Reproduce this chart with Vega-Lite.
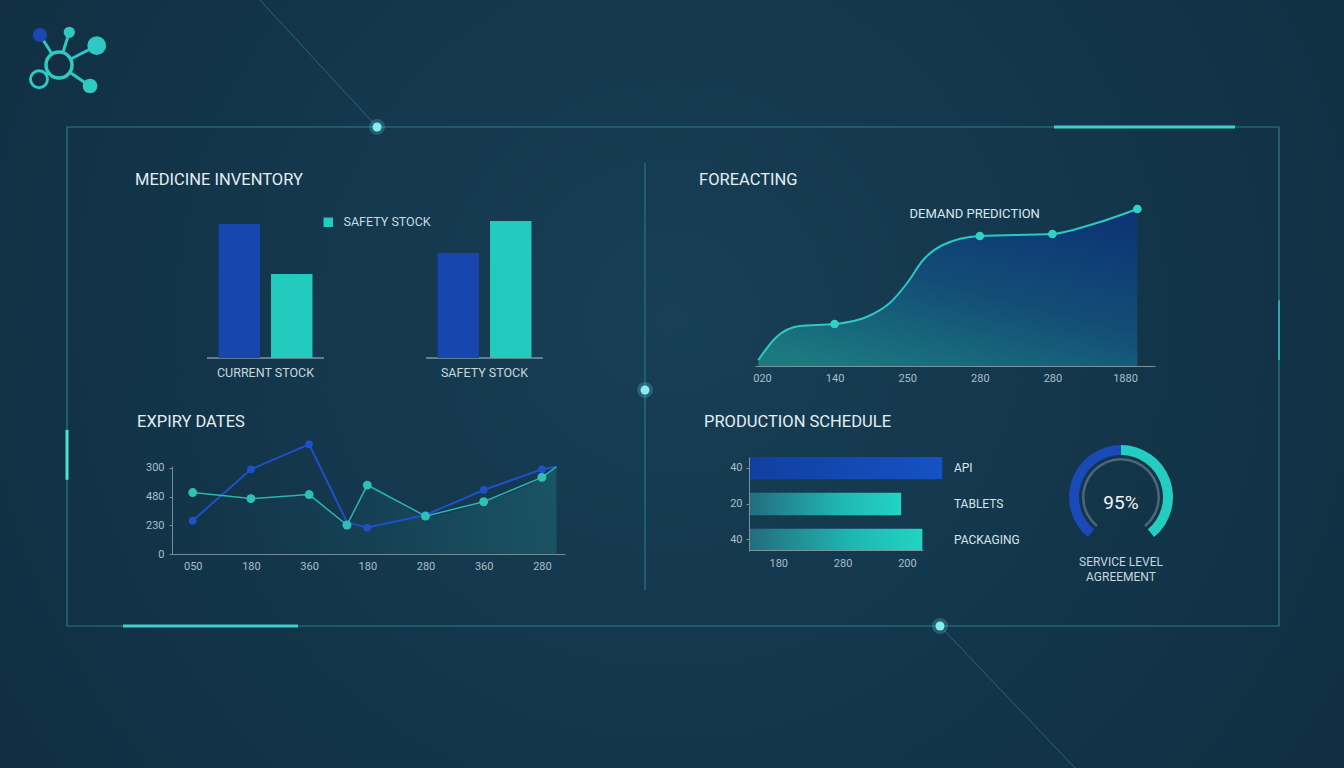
{
  "$schema": "https://vega.github.io/schema/vega-lite/v6.json",
  "width": 1344,
  "height": 768,
  "autosize": "none",
  "padding": 0,
  "background": "#0f2e42",
  "config": {
    "font": "Roboto",
    "view": {"stroke": null},
    "axis": {"grid": false, "labelFont": "Roboto", "labelColor": "#a9bfc8", "domainColor": "#6f8c9a", "tickColor": "#6f8c9a"}
  },
  "resolve": {
    "scale": {"x": "independent", "y": "independent", "color": "independent", "theta": "independent", "xOffset": "independent"},
    "axis": {"x": "independent", "y": "independent"},
    "legend": {"color": "independent"}
  },
  "layer": [
    {
      "data": {"values": [{}]},
      "layer": [
        {"mark": {"type": "rect", "fill": {"gradient": "radial", "x1": 0.5, "y1": 0.45, "r1": 0, "x2": 0.5, "y2": 0.45, "r2": 0.75, "stops": [{"offset": 0, "color": "#173f56"}, {"offset": 1, "color": "#0e2a3d"}]}},
         "encoding": {"x": {"datum": -0.0553, "type": "quantitative", "scale": {"domain": [0, 1], "range": [67, 1279], "nice": false, "zero": false}, "axis": null}, "x2": {"datum": 1.0536},
                      "y": {"datum": -0.2545, "type": "quantitative", "scale": {"domain": [0, 1], "range": [127, 626], "nice": false, "zero": false}, "axis": null}, "y2": {"datum": 1.2846}}},
        {"mark": {"type": "rect", "fill": "#000000", "fillOpacity": 0, "stroke": "#2a8e9c", "strokeWidth": 1.2, "strokeOpacity": 0.8},
         "encoding": {"x": {"datum": 0, "type": "quantitative", "scale": {"domain": [0, 1], "range": [67, 1279], "nice": false, "zero": false}, "axis": null}, "x2": {"datum": 1},
                      "y": {"datum": 0, "type": "quantitative", "scale": {"domain": [0, 1], "range": [127, 626], "nice": false, "zero": false}, "axis": null}, "y2": {"datum": 1}}},
        {"mark": {"type": "rule", "color": "#2b8594", "strokeWidth": 1, "opacity": 0.9},
         "encoding": {"x": {"datum": 0.4769, "type": "quantitative", "scale": {"domain": [0, 1], "range": [67, 1279], "nice": false, "zero": false}, "axis": null},
                      "y": {"datum": 0.0721, "type": "quantitative", "scale": {"domain": [0, 1], "range": [127, 626], "nice": false, "zero": false}, "axis": null}, "y2": {"datum": 0.928}}},
        {"mark": {"type": "rule", "color": "#2b8c99", "strokeWidth": 1, "opacity": 0.6},
         "encoding": {"x": {"datum": 0.1592, "type": "quantitative", "scale": {"domain": [0, 1], "range": [67, 1279], "nice": false, "zero": false}, "axis": null}, "x2": {"datum": 0.2558},
                      "y": {"datum": -0.2545, "type": "quantitative", "scale": {"domain": [0, 1], "range": [127, 626], "nice": false, "zero": false}, "axis": null}, "y2": {"datum": 0}}},
        {"mark": {"type": "rule", "color": "#2b8c99", "strokeWidth": 1, "opacity": 0.6},
         "encoding": {"x": {"datum": 0.7203, "type": "quantitative", "scale": {"domain": [0, 1], "range": [67, 1279], "nice": false, "zero": false}, "axis": null}, "x2": {"datum": 0.8317},
                      "y": {"datum": 1, "type": "quantitative", "scale": {"domain": [0, 1], "range": [127, 626], "nice": false, "zero": false}, "axis": null}, "y2": {"datum": 1.2846}}},
        {"mark": {"type": "rule", "color": "#3fd0cc", "strokeWidth": 3},
         "encoding": {"x": {"datum": 0.8144, "type": "quantitative", "scale": {"domain": [0, 1], "range": [67, 1279], "nice": false, "zero": false}, "axis": null}, "x2": {"datum": 0.9637},
                      "y": {"datum": 0, "type": "quantitative", "scale": {"domain": [0, 1], "range": [127, 626], "nice": false, "zero": false}, "axis": null}}},
        {"mark": {"type": "rule", "color": "#3fd0cc", "strokeWidth": 3},
         "encoding": {"x": {"datum": 0.0462, "type": "quantitative", "scale": {"domain": [0, 1], "range": [67, 1279], "nice": false, "zero": false}, "axis": null}, "x2": {"datum": 0.1906},
                      "y": {"datum": 1, "type": "quantitative", "scale": {"domain": [0, 1], "range": [127, 626], "nice": false, "zero": false}, "axis": null}}},
        {"mark": {"type": "rule", "color": "#4fe0d8", "strokeWidth": 3},
         "encoding": {"x": {"datum": 0, "type": "quantitative", "scale": {"domain": [0, 1], "range": [67, 1279], "nice": false, "zero": false}, "axis": null},
                      "y": {"datum": 0.607, "type": "quantitative", "scale": {"domain": [0, 1], "range": [127, 626], "nice": false, "zero": false}, "axis": null}, "y2": {"datum": 0.707}}},
        {"mark": {"type": "rule", "color": "#3cc4c8", "strokeWidth": 2, "opacity": 0.7},
         "encoding": {"x": {"datum": 1, "type": "quantitative", "scale": {"domain": [0, 1], "range": [67, 1279], "nice": false, "zero": false}, "axis": null},
                      "y": {"datum": 0.347, "type": "quantitative", "scale": {"domain": [0, 1], "range": [127, 626], "nice": false, "zero": false}, "axis": null}, "y2": {"datum": 0.467}}},
        {"mark": {"type": "point", "filled": true, "color": "#8af0f4", "opacity": 1, "size": 80, "stroke": "#6fe6ee", "strokeWidth": 7, "strokeOpacity": 0.22},
         "encoding": {"x": {"datum": 0.2558, "type": "quantitative", "scale": {"domain": [0, 1], "range": [67, 1279], "nice": false, "zero": false}, "axis": null},
                      "y": {"datum": 0, "type": "quantitative", "scale": {"domain": [0, 1], "range": [127, 626], "nice": false, "zero": false}, "axis": null}}},
        {"mark": {"type": "point", "filled": true, "color": "#8af0f4", "opacity": 1, "size": 80, "stroke": "#6fe6ee", "strokeWidth": 7, "strokeOpacity": 0.22},
         "encoding": {"x": {"datum": 0.4769, "type": "quantitative", "scale": {"domain": [0, 1], "range": [67, 1279], "nice": false, "zero": false}, "axis": null},
                      "y": {"datum": 0.527, "type": "quantitative", "scale": {"domain": [0, 1], "range": [127, 626], "nice": false, "zero": false}, "axis": null}}},
        {"mark": {"type": "point", "filled": true, "color": "#8af0f4", "opacity": 1, "size": 80, "stroke": "#6fe6ee", "strokeWidth": 7, "strokeOpacity": 0.22},
         "encoding": {"x": {"datum": 0.7203, "type": "quantitative", "scale": {"domain": [0, 1], "range": [67, 1279], "nice": false, "zero": false}, "axis": null},
                      "y": {"datum": 1, "type": "quantitative", "scale": {"domain": [0, 1], "range": [127, 626], "nice": false, "zero": false}, "axis": null}}},
        {"mark": {"type": "rule", "color": "#2ec9c0", "strokeWidth": 3},
         "encoding": {"x": {"datum": -0.0066, "type": "quantitative", "scale": {"domain": [0, 1], "range": [67, 1279], "nice": false, "zero": false}, "axis": null}, "x2": {"datum": -0.0223},
                      "y": {"datum": -0.1242, "type": "quantitative", "scale": {"domain": [0, 1], "range": [127, 626], "nice": false, "zero": false}, "axis": null}, "y2": {"datum": -0.1844}}},
        {"mark": {"type": "rule", "color": "#2ec9c0", "strokeWidth": 3},
         "encoding": {"x": {"datum": -0.0066, "type": "quantitative", "scale": {"domain": [0, 1], "range": [67, 1279], "nice": false, "zero": false}, "axis": null}, "x2": {"datum": 0.0019},
                      "y": {"datum": -0.1242, "type": "quantitative", "scale": {"domain": [0, 1], "range": [127, 626], "nice": false, "zero": false}, "axis": null}, "y2": {"datum": -0.1898}}},
        {"mark": {"type": "rule", "color": "#2ec9c0", "strokeWidth": 3},
         "encoding": {"x": {"datum": -0.0066, "type": "quantitative", "scale": {"domain": [0, 1], "range": [67, 1279], "nice": false, "zero": false}, "axis": null}, "x2": {"datum": 0.0245},
                      "y": {"datum": -0.1242, "type": "quantitative", "scale": {"domain": [0, 1], "range": [127, 626], "nice": false, "zero": false}, "axis": null}, "y2": {"datum": -0.1629}}},
        {"mark": {"type": "rule", "color": "#2ec9c0", "strokeWidth": 3},
         "encoding": {"x": {"datum": -0.0066, "type": "quantitative", "scale": {"domain": [0, 1], "range": [67, 1279], "nice": false, "zero": false}, "axis": null}, "x2": {"datum": 0.019},
                      "y": {"datum": -0.1242, "type": "quantitative", "scale": {"domain": [0, 1], "range": [127, 626], "nice": false, "zero": false}, "axis": null}, "y2": {"datum": -0.0822}}},
        {"mark": {"type": "rule", "color": "#2ec9c0", "strokeWidth": 3},
         "encoding": {"x": {"datum": -0.0066, "type": "quantitative", "scale": {"domain": [0, 1], "range": [67, 1279], "nice": false, "zero": false}, "axis": null}, "x2": {"datum": -0.0231},
                      "y": {"datum": -0.1242, "type": "quantitative", "scale": {"domain": [0, 1], "range": [127, 626], "nice": false, "zero": false}, "axis": null}, "y2": {"datum": -0.0956}}},
        {"mark": {"type": "point", "filled": true, "color": "#122f44", "opacity": 1, "size": 676, "stroke": "#2ec9c0", "strokeWidth": 3.5},
         "encoding": {"x": {"datum": -0.0066, "type": "quantitative", "scale": {"domain": [0, 1], "range": [67, 1279], "nice": false, "zero": false}, "axis": null},
                      "y": {"datum": -0.1242, "type": "quantitative", "scale": {"domain": [0, 1], "range": [127, 626], "nice": false, "zero": false}, "axis": null}}},
        {"mark": {"type": "point", "filled": true, "color": "#122f44", "opacity": 1, "size": 289, "stroke": "#2ec9c0", "strokeWidth": 3},
         "encoding": {"x": {"datum": -0.0231, "type": "quantitative", "scale": {"domain": [0, 1], "range": [67, 1279], "nice": false, "zero": false}, "axis": null},
                      "y": {"datum": -0.0956, "type": "quantitative", "scale": {"domain": [0, 1], "range": [127, 626], "nice": false, "zero": false}, "axis": null}}},
        {"mark": {"type": "point", "filled": true, "color": "#1c47b0", "size": 196, "opacity": 1},
         "encoding": {"x": {"datum": -0.0223, "type": "quantitative", "scale": {"domain": [0, 1], "range": [67, 1279], "nice": false, "zero": false}, "axis": null},
                      "y": {"datum": -0.1844, "type": "quantitative", "scale": {"domain": [0, 1], "range": [127, 626], "nice": false, "zero": false}, "axis": null}}},
        {"mark": {"type": "point", "filled": true, "color": "#2ec9c0", "size": 128, "opacity": 1},
         "encoding": {"x": {"datum": 0.0019, "type": "quantitative", "scale": {"domain": [0, 1], "range": [67, 1279], "nice": false, "zero": false}, "axis": null},
                      "y": {"datum": -0.1898, "type": "quantitative", "scale": {"domain": [0, 1], "range": [127, 626], "nice": false, "zero": false}, "axis": null}}},
        {"mark": {"type": "point", "filled": true, "color": "#2ec9c0", "size": 350, "opacity": 1},
         "encoding": {"x": {"datum": 0.0245, "type": "quantitative", "scale": {"domain": [0, 1], "range": [67, 1279], "nice": false, "zero": false}, "axis": null},
                      "y": {"datum": -0.1629, "type": "quantitative", "scale": {"domain": [0, 1], "range": [127, 626], "nice": false, "zero": false}, "axis": null}}},
        {"mark": {"type": "point", "filled": true, "color": "#2ec9c0", "size": 216, "opacity": 1},
         "encoding": {"x": {"datum": 0.019, "type": "quantitative", "scale": {"domain": [0, 1], "range": [67, 1279], "nice": false, "zero": false}, "axis": null},
                      "y": {"datum": -0.0822, "type": "quantitative", "scale": {"domain": [0, 1], "range": [127, 626], "nice": false, "zero": false}, "axis": null}}},
        {"mark": {"type": "text", "text": "MEDICINE INVENTORY", "align": "left", "baseline": "middle", "fontSize": 16.5, "color": "#e3eef2"},
         "encoding": {"x": {"datum": 0.0561, "type": "quantitative", "scale": {"domain": [0, 1], "range": [67, 1279], "nice": false, "zero": false}, "axis": null},
                      "y": {"datum": 0.1062, "type": "quantitative", "scale": {"domain": [0, 1], "range": [127, 626], "nice": false, "zero": false}, "axis": null}}},
        {"mark": {"type": "text", "text": "FOREACTING", "align": "left", "baseline": "middle", "fontSize": 16.5, "color": "#e3eef2"},
         "encoding": {"x": {"datum": 0.5215, "type": "quantitative", "scale": {"domain": [0, 1], "range": [67, 1279], "nice": false, "zero": false}, "axis": null},
                      "y": {"datum": 0.1062, "type": "quantitative", "scale": {"domain": [0, 1], "range": [127, 626], "nice": false, "zero": false}, "axis": null}}},
        {"mark": {"type": "text", "text": "EXPIRY DATES", "align": "left", "baseline": "middle", "fontSize": 16.5, "color": "#e3eef2"},
         "encoding": {"x": {"datum": 0.0578, "type": "quantitative", "scale": {"domain": [0, 1], "range": [67, 1279], "nice": false, "zero": false}, "axis": null},
                      "y": {"datum": 0.5912, "type": "quantitative", "scale": {"domain": [0, 1], "range": [127, 626], "nice": false, "zero": false}, "axis": null}}},
        {"mark": {"type": "text", "text": "PRODUCTION SCHEDULE", "align": "left", "baseline": "middle", "fontSize": 16.5, "color": "#e3eef2"},
         "encoding": {"x": {"datum": 0.5256, "type": "quantitative", "scale": {"domain": [0, 1], "range": [67, 1279], "nice": false, "zero": false}, "axis": null},
                      "y": {"datum": 0.5912, "type": "quantitative", "scale": {"domain": [0, 1], "range": [127, 626], "nice": false, "zero": false}, "axis": null}}}
      ]
    },
    {
      "data": {"values": [
        {"group": "CURRENT STOCK", "series": "CURRENT STOCK", "stock": 134},
        {"group": "CURRENT STOCK", "series": "SAFETY STOCK", "stock": 84},
        {"group": "SAFETY STOCK", "series": "CURRENT STOCK", "stock": 105},
        {"group": "SAFETY STOCK", "series": "SAFETY STOCK", "stock": 137}
      ]},
      "encoding": {
        "x": {"field": "group", "type": "nominal", "scale": {"domain": ["CURRENT STOCK", "SAFETY STOCK"], "range": [156, 594], "paddingInner": 0.466, "paddingOuter": 0.233},
              "axis": {"orient": "bottom", "offset": -410, "zindex": 1, "domain": false, "ticks": false, "labelPadding": 8, "labelFontSize": 12.5, "labelColor": "#c6d8df", "labelAngle": 0, "title": null}}
      },
      "layer": [
        {"mark": {"type": "tick", "size": 117, "thickness": 1, "color": "#7b96a4", "opacity": 1},
         "encoding": {"y": {"datum": 0, "type": "quantitative", "scale": {"domain": [0, 150], "range": [358, 208], "nice": false}, "axis": null}}},
        {"mark": {"type": "bar"},
         "encoding": {
           "xOffset": {"field": "series", "type": "nominal", "scale": {"paddingInner": 0.21, "paddingOuter": 0.219}},
           "y": {"field": "stock", "type": "quantitative", "scale": {"domain": [0, 150], "range": [358, 208], "nice": false}, "axis": null},
           "color": {"field": "series", "type": "nominal", "scale": {"domain": ["CURRENT STOCK", "SAFETY STOCK"], "range": ["#1646ae", "#22cbbd"]},
                     "legend": {"values": ["SAFETY STOCK"], "orient": "none", "legendX": 322, "legendY": 216, "zindex": 1, "title": null, "symbolType": "square", "symbolSize": 90, "symbolStrokeWidth": 0, "labelFontSize": 12.5, "labelColor": "#c8dbe2", "labelOffset": 9, "labelFont": "Roboto"}}
         }}
      ]
    },
    {
      "data": {"values": [
        {"period": -0.05, "demand": 6, "marker": false},
        {"period": 0.2, "demand": 29, "marker": false},
        {"period": 0.52, "demand": 40, "marker": false},
        {"period": 1, "demand": 42, "marker": true},
        {"period": 1.44, "demand": 49, "marker": false},
        {"period": 1.76, "demand": 63, "marker": false},
        {"period": 2, "demand": 83, "marker": false},
        {"period": 2.22, "demand": 106, "marker": false},
        {"period": 2.49, "demand": 121, "marker": false},
        {"period": 3, "demand": 130, "marker": true},
        {"period": 4, "demand": 132, "marker": true},
        {"period": 4.52, "demand": 141, "marker": false},
        {"period": 5.17, "demand": 157, "marker": true}
      ]},
      "encoding": {
        "x": {"field": "period", "type": "quantitative", "scale": {"domain": [-0.096, 5.413], "range": [755, 1155], "nice": false, "zero": false},
              "axis": {"orient": "bottom", "offset": -402, "zindex": 1, "values": [0, 1, 2, 3, 4, 5], "labelExpr": "['020','140','250','280','280','1880'][datum.value]", "ticks": false, "labelPadding": 6, "labelFontSize": 11, "labelColor": "#a9bfc8", "domainColor": "#7893a1", "title": null}},
        "y": {"field": "demand", "type": "quantitative", "scale": {"domain": [0, 160], "range": [366, 206], "nice": false}, "axis": null}
      },
      "layer": [
        {"mark": {"type": "area", "interpolate": "monotone", "opacity": 0.95, "fill": {"gradient": "linear", "x1": 0.8, "y1": 0, "x2": 0.2, "y2": 1, "stops": [{"offset": 0, "color": "#0c3577"}, {"offset": 0.5, "color": "#134f78"}, {"offset": 1, "color": "#1b7c82"}]}}},
        {"mark": {"type": "line", "interpolate": "monotone", "color": "#2cc8c2", "strokeWidth": 2}},
        {"transform": [{"filter": "datum.marker"}], "mark": {"type": "point", "filled": true, "size": 75, "color": "#2fd3c3", "opacity": 1}},
        {"transform": [{"filter": "datum.period == 3"}],
         "mark": {"type": "text", "text": "DEMAND PREDICTION", "fontSize": 13, "color": "#dbe8ec", "align": "center", "baseline": "middle"},
         "encoding": {"x": {"datum": 2.93, "type": "quantitative", "scale": {"domain": [-0.096, 5.413], "range": [755, 1155], "nice": false, "zero": false}},
                      "y": {"datum": 152, "type": "quantitative", "scale": {"domain": [0, 160], "range": [366, 206], "nice": false}, "axis": null}}}
      ]
    },
    {
      "data": {"values": [
        {"idx": 0, "series": "A", "level": 1.16, "dot": true},
        {"idx": 1, "series": "A", "level": 2.95, "dot": true},
        {"idx": 2, "series": "A", "level": 3.82, "dot": true},
        {"idx": 2.65, "series": "A", "level": 1.11, "dot": false},
        {"idx": 3, "series": "A", "level": 0.92, "dot": true},
        {"idx": 4, "series": "A", "level": 1.36, "dot": true},
        {"idx": 5, "series": "A", "level": 2.23, "dot": true},
        {"idx": 6, "series": "A", "level": 2.95, "dot": true},
        {"idx": 6.25, "series": "A", "level": 3.04, "dot": false},
        {"idx": 0, "series": "B", "level": 2.14, "dot": true},
        {"idx": 1, "series": "B", "level": 1.93, "dot": true},
        {"idx": 2, "series": "B", "level": 2.07, "dot": true},
        {"idx": 2.65, "series": "B", "level": 1.01, "dot": true},
        {"idx": 3, "series": "B", "level": 2.4, "dot": true},
        {"idx": 4, "series": "B", "level": 1.32, "dot": true},
        {"idx": 5, "series": "B", "level": 1.82, "dot": true},
        {"idx": 6, "series": "B", "level": 2.67, "dot": true},
        {"idx": 6.25, "series": "B", "level": 3.04, "dot": false}
      ]},
      "encoding": {
        "x": {"field": "idx", "type": "quantitative", "scale": {"domain": [-0.356, 6.397], "range": [172, 565], "nice": false, "zero": false},
              "axis": {"orient": "bottom", "offset": -214, "zindex": 1, "values": [0, 1, 2, 3, 4, 5, 6], "labelExpr": "['050','180','360','180','280','360','280'][datum.value]", "ticks": false, "labelPadding": 6, "labelFontSize": 11, "labelColor": "#a9bfc8", "domainColor": "#6f8c9a", "title": null}},
        "y": {"field": "level", "type": "quantitative", "scale": {"domain": [0, 3.066], "range": [554, 466], "nice": false},
              "axis": {"orient": "left", "offset": -172, "zindex": 1, "values": [0, 1, 2, 3], "labelExpr": "['0','230','480','300'][datum.value]", "tickSize": 3, "labelPadding": 5, "labelFontSize": 11, "labelColor": "#a9bfc8", "domainColor": "#6f8c9a", "title": null}}
      },
      "layer": [
        {"transform": [{"filter": "datum.series == 'B'"}],
         "mark": {"type": "area", "interpolate": "monotone", "fill": {"gradient": "linear", "x1": 0, "y1": 0, "x2": 1, "y2": 0, "stops": [{"offset": 0, "color": "rgba(40,170,170,0.0)"}, {"offset": 0.5, "color": "rgba(40,170,170,0.08)"}, {"offset": 1, "color": "rgba(40,170,170,0.22)"}]}}},
        {"transform": [{"filter": "datum.series == 'A'"}], "mark": {"type": "line", "color": "#1e50c8", "strokeWidth": 2}},
        {"transform": [{"filter": "datum.series == 'B'"}], "mark": {"type": "line", "color": "#2bb5b0", "strokeWidth": 1.5}},
        {"transform": [{"filter": "datum.series == 'A' && datum.dot"}], "mark": {"type": "point", "filled": true, "size": 60, "color": "#1e50c8", "opacity": 1}},
        {"transform": [{"filter": "datum.series == 'B' && datum.dot"}], "mark": {"type": "point", "filled": true, "size": 80, "color": "#2ec0b5", "opacity": 1}}
      ]
    },
    {
      "data": {"values": [
        {"task": "API", "units": 300},
        {"task": "TABLETS", "units": 236},
        {"task": "PACKAGING", "units": 269}
      ]},
      "encoding": {
        "y": {"field": "task", "type": "nominal", "sort": null, "scale": {"domain": ["API", "TABLETS", "PACKAGING"], "range": [457, 551], "paddingInner": 0.376, "paddingOuter": 0},
              "axis": {"orient": "left", "offset": -749, "zindex": 1, "labelExpr": "datum.value == 'TABLETS' ? '20' : '40'", "tickSize": 3, "labelPadding": 4, "labelFontSize": 11, "labelColor": "#a9bfc8", "domainColor": "#7893a1", "tickColor": "#7893a1", "title": null}},
        "x": {"field": "units", "type": "quantitative", "scale": {"domain": [0, 270], "range": [749.3, 923], "nice": false},
              "axis": {"orient": "bottom", "offset": -218, "zindex": 1, "values": [45, 145, 245], "labelExpr": "datum.value == 45 ? '180' : datum.value == 145 ? '280' : '200'", "ticks": false, "labelPadding": 7, "labelFontSize": 11, "labelColor": "#a9bfc8", "domainColor": "#7893a1", "title": null}}
      },
      "layer": [
        {"transform": [{"filter": "datum.task == 'API'"}],
         "mark": {"type": "bar", "fill": {"gradient": "linear", "x1": 0, "y1": 0, "x2": 1, "y2": 0, "stops": [{"offset": 0, "color": "#113f9f"}, {"offset": 1, "color": "#1552c4"}]}}},
        {"transform": [{"filter": "datum.task != 'API'"}],
         "mark": {"type": "bar", "fill": {"gradient": "linear", "x1": 0, "y1": 0, "x2": 1, "y2": 0, "stops": [{"offset": 0, "color": "#236c7e"}, {"offset": 0.6, "color": "#1fb7b2"}, {"offset": 1, "color": "#22d4c4"}]}}},
        {"mark": {"type": "text", "align": "left", "baseline": "middle", "fontSize": 12, "color": "#d5e5ea"},
         "encoding": {"x": {"datum": 318, "type": "quantitative"}, "text": {"field": "task"}}}
      ]
    },
    {
      "data": {"values": [
        {"part": "a", "share": 50},
        {"part": "b", "share": 50}
      ]},
      "layer": [
        {"data": {"values": [{"part": "track", "share": 100}]},
         "mark": {"type": "arc", "outerRadius": 39, "innerRadius": 36.5, "color": "#4a6778"},
         "encoding": {
           "theta": {"field": "share", "type": "quantitative", "scale": {"range": [-2.45, 2.45]}},
           "x": {"datum": 0.5, "type": "quantitative", "scale": {"domain": [0, 1], "range": [1069, 1173], "nice": false, "zero": false}, "axis": null},
           "y": {"datum": 0.5, "type": "quantitative", "scale": {"domain": [0, 1], "range": [549, 445], "nice": false, "zero": false}, "axis": null}
         }},
        {"mark": {"type": "arc", "outerRadius": 52, "innerRadius": 42},
         "encoding": {
           "theta": {"field": "share", "type": "quantitative", "scale": {"range": [-2.45, 2.45]}},
           "color": {"field": "part", "type": "nominal", "scale": {"domain": ["a", "b"], "range": ["#1a49b8", "#24cdbf"]}, "legend": null},
           "x": {"datum": 0.5, "type": "quantitative", "scale": {"domain": [0, 1], "range": [1069, 1173], "nice": false, "zero": false}, "axis": null},
           "y": {"datum": 0.5, "type": "quantitative", "scale": {"domain": [0, 1], "range": [549, 445], "nice": false, "zero": false}, "axis": null}
         }},
        {"data": {"values": [{"label": "95%"}]},
         "mark": {"type": "text", "fontSize": 19, "color": "#f0f6f8", "align": "center", "baseline": "middle"},
         "encoding": {
           "text": {"field": "label"},
           "x": {"datum": 0.5, "type": "quantitative", "scale": {"domain": [0, 1], "range": [1069, 1173], "nice": false, "zero": false}, "axis": null},
           "y": {"datum": 0.44, "type": "quantitative", "scale": {"domain": [0, 1], "range": [549, 445], "nice": false, "zero": false}, "axis": null}
         }},
        {"data": {"values": [{"label": ["SERVICE LEVEL", "AGREEMENT"]}]},
         "mark": {"type": "text", "fontSize": 12, "color": "#c5d7de", "align": "center", "baseline": "top", "lineHeight": 15},
         "encoding": {
           "text": {"field": "label"},
           "x": {"datum": 0.5, "type": "quantitative", "scale": {"domain": [0, 1], "range": [1069, 1173], "nice": false, "zero": false}, "axis": null},
           "y": {"datum": -0.077, "type": "quantitative", "scale": {"domain": [0, 1], "range": [549, 445], "nice": false, "zero": false}, "axis": null}
         }}
      ]
    }
  ]
}
